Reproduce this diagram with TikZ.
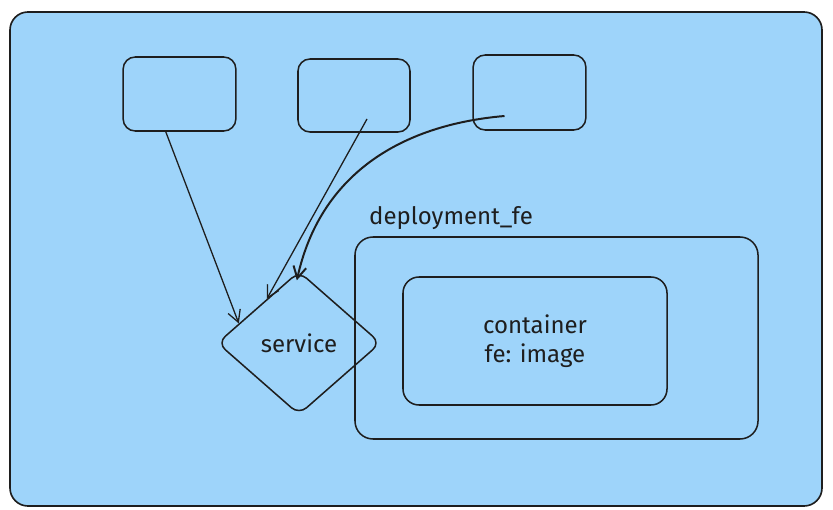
\documentclass[tikz,border=0pt]{standalone}
\usepackage{fontspec}
\setmainfont{Fira Sans}
\usetikzlibrary{shapes.geometric, arrows.meta, calc}
\definecolor{boardblue}{RGB}{158,212,250}
\definecolor{ink}{RGB}{30,30,30}
\tikzset{
  podbox/.style={draw=ink, line width=1.3pt, rounded corners=0.36cm, minimum width=3.38cm, minimum height=2.22cm},
  link/.style={draw=ink, line width=1.1pt, -{Straight Barb[length=10pt,width=11pt]}},
  label/.style={font=\fontsize{20.5}{25}\selectfont, text=ink}
}
\begin{document}
\begin{tikzpicture}[x=0.03cm, y=-0.03cm]
                  \useasboundingbox (0,0) rectangle (833,510);
                  \draw[ink, line width=1.4pt, fill=boardblue, rounded corners=0.54cm](10,12) rectangle (822,506);
                  % top boxes
                  \node[podbox] (pod1) at (179.5,94) {};
                  \node[podbox, minimum width=3.36cm, minimum height=2.19cm] (pod2) at (354,95.5) {};
                  \node[podbox, minimum height=2.25cm] (pod3) at (529.5,92.5) {};
                  % deployment
                  \node[label, anchor=west] (deplabel) at (365,218) {deployment\_fe};
                  \node[draw=ink, line width=1.3pt, rounded corners=0.54cm, minimum width=12.09cm, minimum height=6.06cm] (deploy) at (556.5,338) {};
                  \node[draw=ink, line width=1.3pt, rounded corners=0.48cm, minimum width=7.92cm, minimum height=3.84cm, label, align=center] (cont) at (535,341) {container\\fe: image};
                  % service
                  \node[diamond, draw=ink, line width=1.3pt, rounded corners=0.3cm, inner sep=0pt, minimum width=4.9cm, minimum height=4.3cm, label] (svc) at (299,343) {service};
                  % arrows
                  \draw[link] (pod1.250) -- (svc.162);
                  \draw[link] ($(pod2.center)+(13,23.5)$) -- (svc.126);
                  \draw[link, line width=1.7pt, shorten >=-0.3cm] ($(pod3.center)+(-25,23.5)$) .. controls (400,125) and (320,175) .. (svc.north);
            \end{tikzpicture}
\end{document}
